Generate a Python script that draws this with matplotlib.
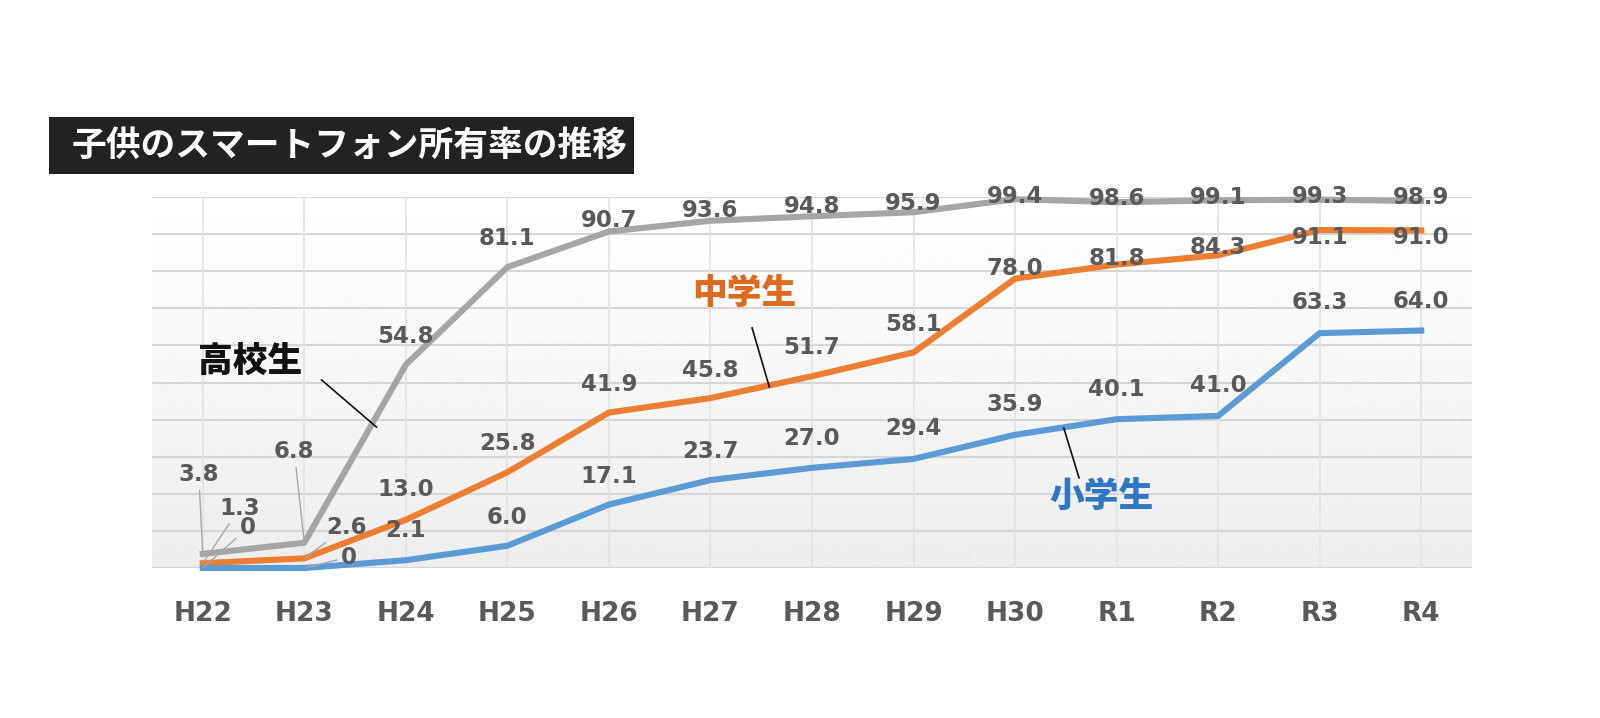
import numpy as np
import matplotlib
matplotlib.use("Agg")
import matplotlib.pyplot as plt
from matplotlib.patches import Rectangle

plt.rcParams["font.family"] = ["DejaVu Sans", "Noto Sans CJK JP"]

years = ["H22", "H23", "H24", "H25", "H26", "H27", "H28", "H29", "H30", "R1", "R2", "R3", "R4"]
high = [3.8, 6.8, 54.8, 81.1, 90.7, 93.6, 94.8, 95.9, 99.4, 98.6, 99.1, 99.3, 98.9]
middle = [1.3, 2.6, 13.0, 25.8, 41.9, 45.8, 51.7, 58.1, 78.0, 81.8, 84.3, 91.1, 91.0]
elem = [0, 0, 2.1, 6.0, 17.1, 23.7, 27.0, 29.4, 35.9, 40.1, 41.0, 63.3, 64.0]

title = "子供のスマートフォン所有率の推移"
names = ["高校生", "中学生", "小学生"]

# label offsets in pixels (dx, dy) relative to each point
high_off = [(-4, 79), (-10, 91), (0, 28), (0, 29), (0, 11), (0, 10), (0, 10),
            (0, 9), (0, 3), (0, 4), (0, 3), (0, 3), (0, 4)]
mid_off = [(37, 55), (42, 31), (0, 30), (0, 29), (0, 28), (0, 28), (0, 29),
           (0, 28), (0, 10), (0, 6), (0, 8), (0, -7), (0, -7)]
elem_off = [(45, 40), (45, 11), (0, 30), (0, 28), (0, 28), (0, 29), (0, 29),
            (0, 30), (0, 30), (0, 30), (0, 30), (0, 31), (0, 29)]

colors = ["#A5A5A5", "#ED7D31", "#5B9BD5"]
name_colors = ["#111111", "#DD6A1F", "#2F77C4"]
label_color = "#595959"

fig = plt.figure(figsize=(16, 7.18), dpi=100)
ax = fig.add_axes([152 / 1600, 150 / 718, 1320 / 1600, 371 / 718])

x = np.arange(len(years))
ax.set_xlim(-0.5, len(years) - 0.5)
ax.set_ylim(0, 100)

# soft vertical gradient background
grad = np.linspace(0.93, 1.0, 256).reshape(-1, 1)
ax.imshow(grad, extent=(-0.5, len(years) - 0.5, 0, 100), origin="lower",
          aspect="auto", cmap="gray", vmin=0, vmax=1, zorder=0)

for yv in range(0, 101, 10):
    ax.axhline(yv, color="#D6D6D6", lw=1.5, zorder=1)
for xv in x:
    ax.axvline(xv, color="#E2E2E2", lw=1.2, zorder=1)

for s in ax.spines.values():
    s.set_visible(False)
ax.set_yticks([])
ax.set_xticks(x)
ax.set_xticklabels(years, fontsize=19, fontweight="bold", color=label_color)
ax.tick_params(axis="x", length=0, pad=24)

series = [high, middle, elem]
offsets = [high_off, mid_off, elem_off]
for vals, c in zip(series, colors):
    ax.plot(x, vals, color=c, lw=4.4, solid_joinstyle="round", zorder=3, clip_on=False)

for vals, offs in zip(series, offsets):
    for i, (v, (dx, dy)) in enumerate(zip(vals, offs)):
        txt = "0" if v == 0 else f"{v:.1f}"
        arrow = None
        if i < 2:
            arrow = dict(arrowstyle="-", color="#A6A6A6", lw=1.0, shrinkA=1, shrinkB=1)
        ax.annotate(txt, (i, v), xytext=(dx, dy), textcoords="offset pixels",
                    ha="center", va="center", fontsize=16.5, fontweight="bold",
                    color=label_color, arrowprops=arrow, zorder=5,
                    annotation_clip=False)

# series name callouts with leader lines
name_pos = [(0.47, 55.5), (5.33, 73.6), (8.85, 18.9)]
leader_from = [(1.17, 50.7), (5.41, 64.7), (8.48, 37.7)]
leader_to = [(1.71, 38.0), (5.58, 48.8), (8.63, 24.3)]
for nm, pos, c in zip(names, name_pos, name_colors):
    ax.text(pos[0], pos[1], nm, ha="center", va="center", fontsize=25,
            fontweight="black", color=c, family=["Noto Sans CJK JP"], zorder=6)
for p0, p1 in zip(leader_from, leader_to):
    ax.plot([p0[0], p1[0]], [p0[1], p1[1]], color="#111111", lw=1.2, zorder=6)

# title box
fig.patches.append(Rectangle((49 / 1600, 1 - 174 / 718), 585 / 1600, 57 / 718,
                             transform=fig.transFigure, facecolor="#222222",
                             edgecolor="none"))
fig.text(72 / 1600, 1 - 145.5 / 718, title, ha="left", va="center",
         fontsize=25, fontweight="bold", color="white", family=["Noto Sans CJK JP"])

fig.savefig("out.png", dpi=100, facecolor="white")
